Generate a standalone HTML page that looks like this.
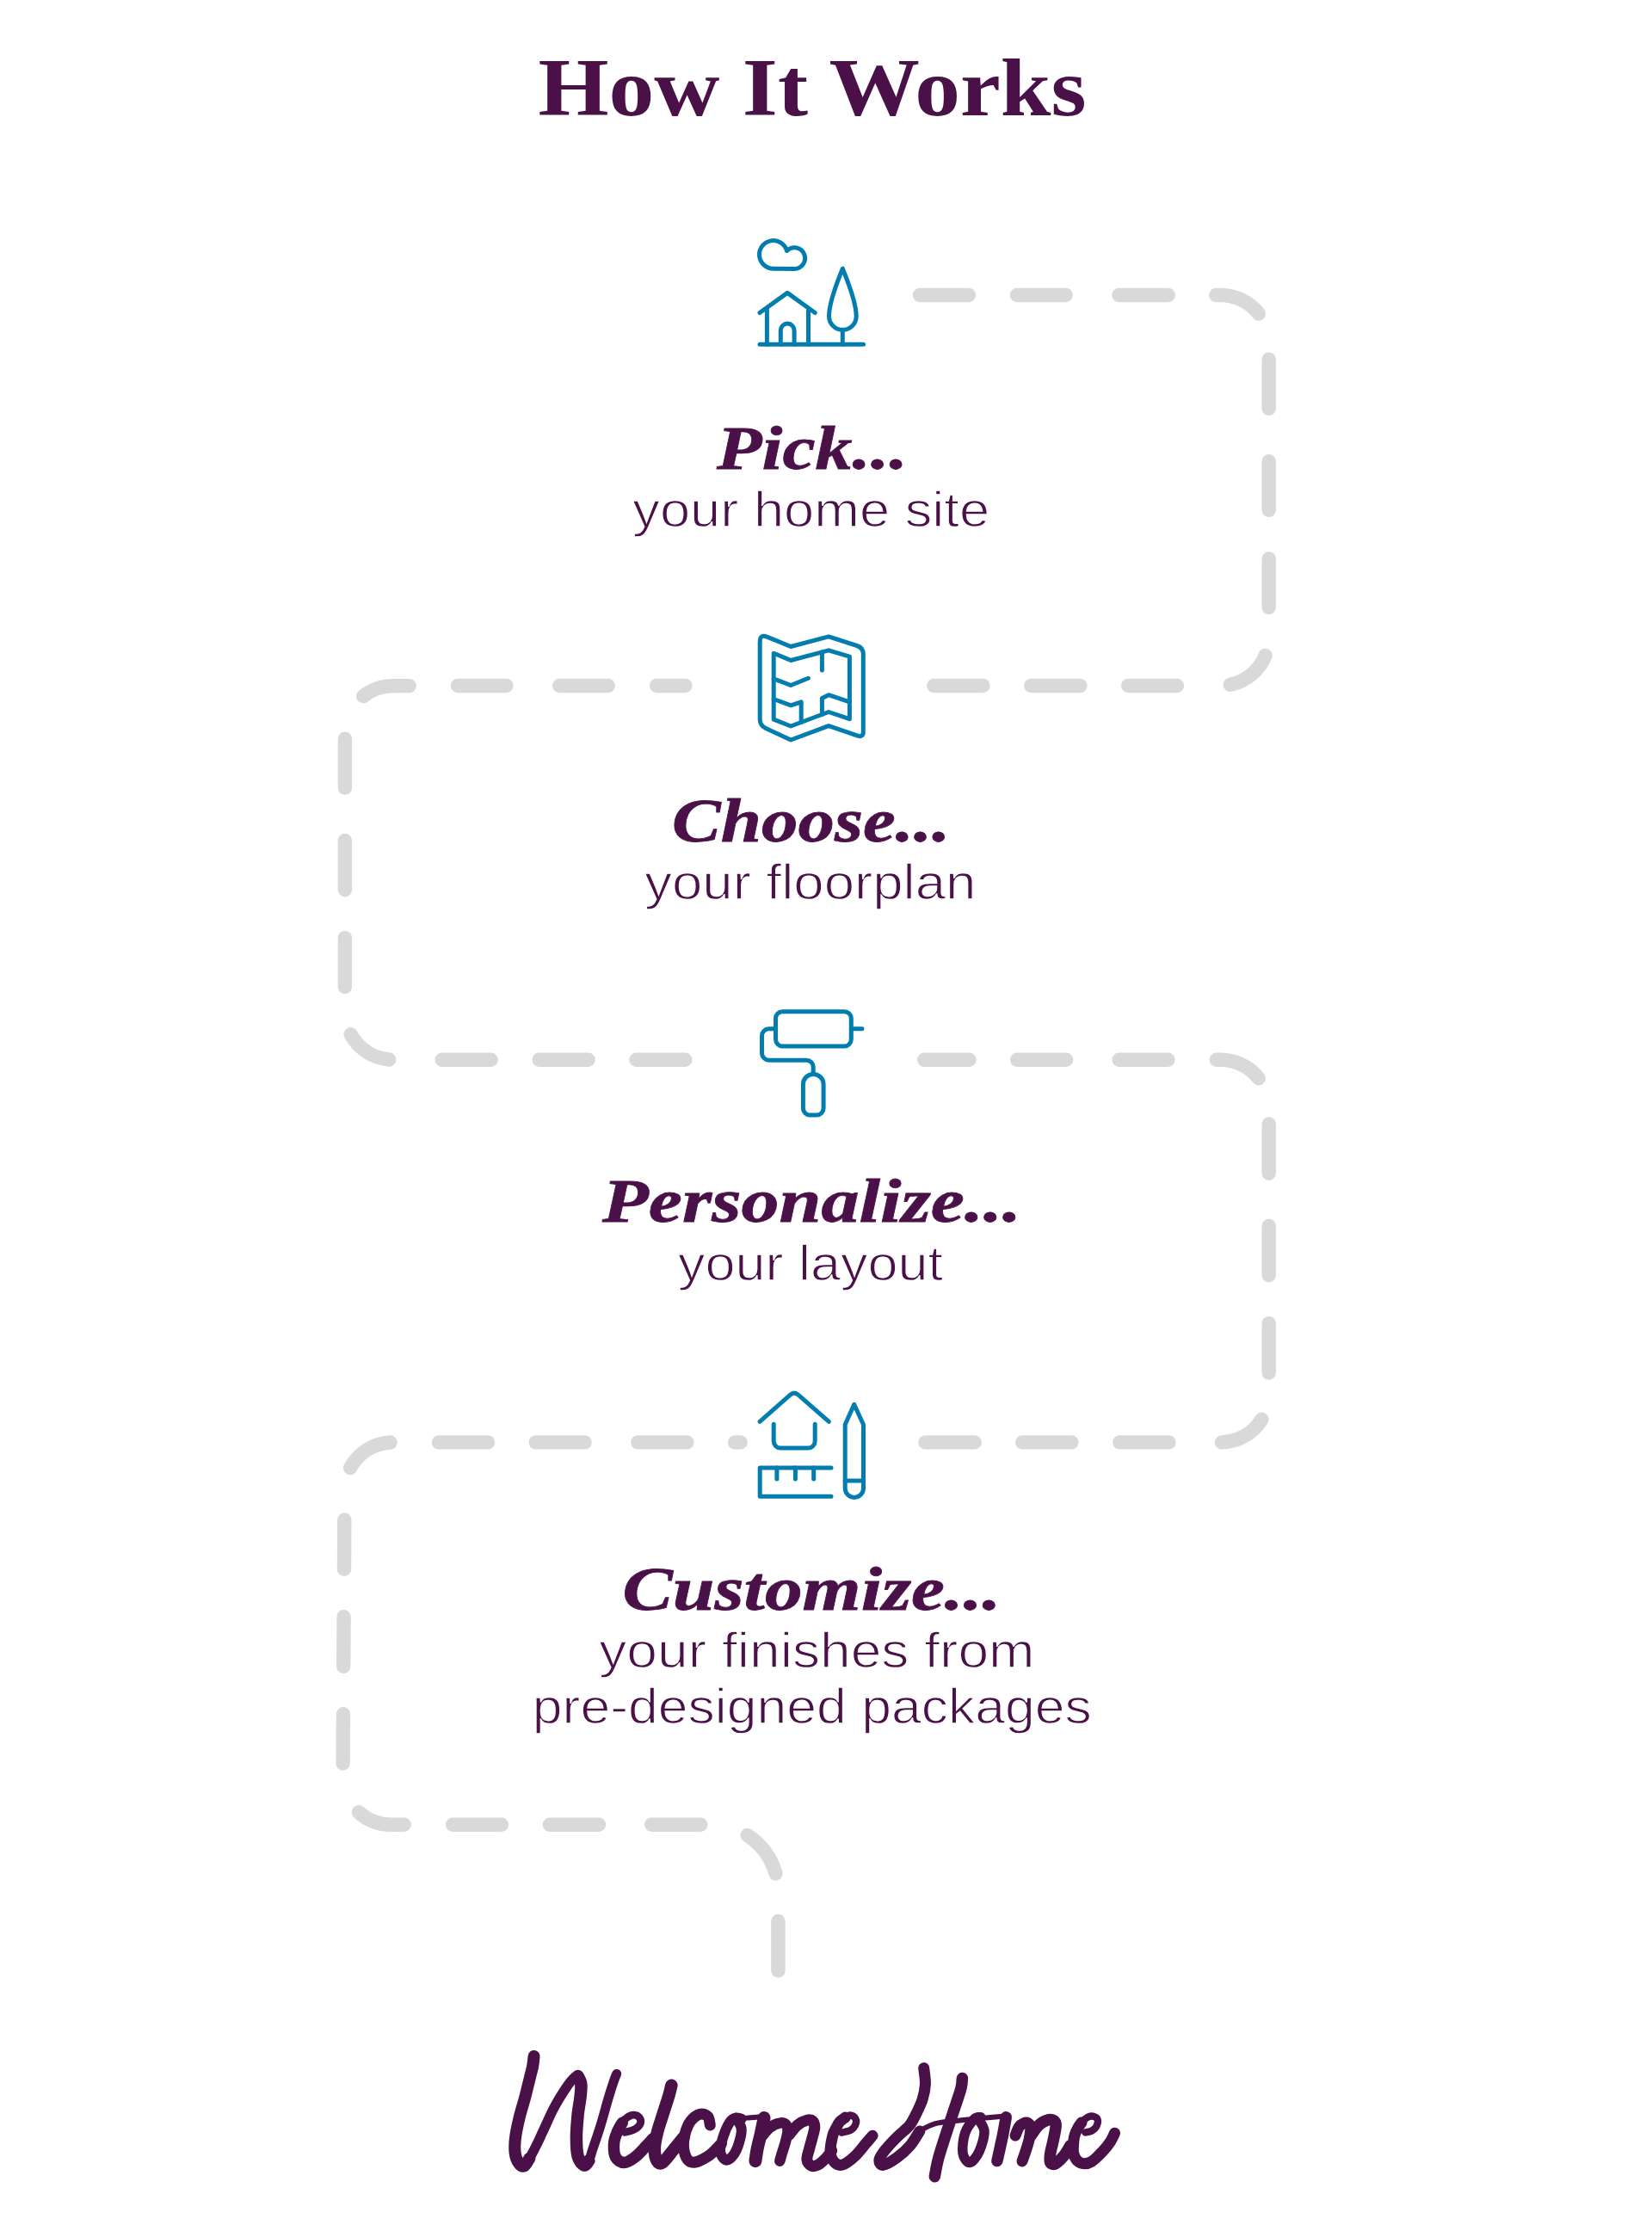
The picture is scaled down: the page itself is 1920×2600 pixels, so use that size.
<!DOCTYPE html>
<html><head><meta charset="utf-8"><title>How It Works</title>
<style>
html,body{margin:0;padding:0;background:#fff;}
body{width:1920px;height:2600px;overflow:hidden;position:relative;}
svg{position:absolute;left:0;top:0;display:block;}
.ttl{font-family:"Liberation Serif",serif;font-weight:bold;font-size:95px;fill:#4a1149;}
.hd{font-family:"Liberation Serif",serif;font-weight:bold;font-style:italic;font-size:72.5px;fill:#4a1149;stroke:#4a1149;stroke-width:0.8px;}
.sb{font-family:"Liberation Sans",sans-serif;font-size:57.5px;fill:#4a1149;stroke:#fff;stroke-width:1.3px;}
</style></head>
<body>
<svg width="1920" height="2600" viewBox="0 0 1920 2600">
<g fill="none" stroke="#d9d9d9" stroke-width="16.4" stroke-linecap="round" stroke-linejoin="round">
<path d="M1069 343H1125.9"/>
<path d="M1182 343H1238.7"/>
<path d="M1300.5 343H1357.6"/>
<path d="M1413.3 343L1418.7 343A56 56 0 0 1 1462.8 364.5"/>
<path d="M1474.7 417.6V474.9"/>
<path d="M1474.7 536.3V592.9"/>
<path d="M1474.7 649.4V706"/>
<path d="M1470.6 761.9A56 56 0 0 1 1429.8 795.8"/>
<path d="M1311.2 797H1368"/>
<path d="M1198.3 797H1255.4"/>
<path d="M1085.4 797H1142.5"/>
<path d="M763.1 797H796.4"/>
<path d="M650.2 797H706.6"/>
<path d="M532 797H588.4"/>
<path d="M475.7 797.1L456.9 797.1A56 56 0 0 0 422.1 809.2"/>
<path d="M400.9 858.6V915.6"/>
<path d="M400.9 977V1034.2"/>
<path d="M400.9 1090.1V1146.9"/>
<path d="M407.6 1202.2A56 56 0 0 0 452.2 1231.5"/>
<path d="M513.7 1231.8H570.6"/>
<path d="M626.7 1231.8H683.6"/>
<path d="M739.4 1231.8H796.3"/>
<path d="M1074.2 1231.8H1126.5"/>
<path d="M1182.2 1231.8H1239.1"/>
<path d="M1300.6 1231.8H1357.4"/>
<path d="M1413.8 1231.8L1418.7 1231.8A56 56 0 0 1 1462.8 1253.3"/>
<path d="M1474.7 1306.5V1363.7"/>
<path d="M1474.7 1425V1482.3"/>
<path d="M1474.7 1538.1V1595.5"/>
<path d="M1466.4 1649.7A56 56 0 0 1 1419.9 1676.4"/>
<path d="M1301.4 1676.4H1358.4"/>
<path d="M1188.3 1676.4H1245.3"/>
<path d="M1075.5 1676.4H1132.7"/>
<path d="M854.1 1676.4H860.6"/>
<path d="M741.4 1676.4H798.3"/>
<path d="M622.7 1676.4H679.6"/>
<path d="M510 1676.4H567"/>
<path d="M453.6 1676.5A56 56 0 0 0 407.1 1706.1"/>
<path d="M400.3 1766.5L400 1823.7"/>
<path d="M399.6 1879.2L399.2 1936.8"/>
<path d="M399 1992.3L398.6 2049.5"/>
<path d="M416.9 2106.3A56 56 0 0 0 454.4 2120.7L469.7 2120.7"/>
<path d="M526.1 2120.7H582.9"/>
<path d="M638.9 2120.7H696"/>
<path d="M757.2 2120.7H814.3"/>
<path d="M868.6 2133.1A78 78 0 0 1 901.5 2177.5"/>
<path d="M904.4 2233V2290.4"/>
</g>
<g fill="none" stroke="#037daf" stroke-width="5" stroke-linecap="round" stroke-linejoin="round">

<!-- icon 1: house + tree + cloud -->
<path d="M898.7 312.2A16.3 16.3 0 1 1 914.5 291.5A12.3 12.3 0 1 1 923 312.4Z"/>
<path d="M883 363.5L915.1 340.4L947.2 363.5"/>
<path d="M891.4 359V400.2M939.5 359V400.2"/>
<path d="M907.3 400.2V384A7.9 7.9 0 0 1 923.1 384V400.2"/>
<path d="M883 400.2H1003.5"/>
<path d="M979.3 312.2C972 330 963.5 352 963.5 367.5A15.85 15.85 0 0 0 995.2 367.5C995.2 352 986.6 330 979.3 312.2Z"/>
<path d="M979.3 383.4V400.2"/>
<!-- icon 2: map / floorplan -->
<path d="M883.2 746Q883.2 736.3 892 740.4L919.1 751.5L963.1 739.9L996 750.5Q1003.3 752.9 1003.3 760V850.4Q1003.3 857.4 996.7 855.1L963.1 843.6L919.1 860L890 846.4Q883.2 843.2 883.2 836Z"/>
<path d="M899.2 759.2L919.1 767.5L963.1 755.8L987.4 763.1V835.7L963.1 827.5L919.1 844L899.2 836.2Z"/>
<path d="M955.4 757.9V779.1"/>
<path d="M899.2 788.8L919.1 796.5L939.4 788.3"/>
<path d="M899.2 812.5L919.1 819.8L931.2 815.9V839.3"/>
<path d="M955.4 830.4V811.5L963.1 807.7L987.4 815.9"/>
<!-- icon 3: paint roller -->
<rect x="901.5" y="1175.7" width="87.8" height="40.3" rx="8"/>
<path d="M989.3 1195.8H1001.9"/>
<path d="M901.5 1195.8H893.5A8 8 0 0 0 885.5 1203.8V1224.2A8 8 0 0 0 893.5 1232.2H937.2A8 8 0 0 1 945.2 1240.2V1248.4"/>
<path d="M933.4 1260.25A11.85 11.85 0 0 1 957.1 1260.25V1288.1A8 8 0 0 1 949.1 1296.1H941.4A8 8 0 0 1 933.4 1288.1Z"/>
<!-- icon 4: house plan + ruler + pencil -->
<path d="M883 1652.3L918.5 1621.2Q923.1 1617.2 927.7 1621.2L963.4 1652.3"/>
<path d="M899.2 1655.2V1675A8 8 0 0 0 907.2 1683H939.2A8 8 0 0 0 947.2 1675V1655.2"/>
<path d="M966 1705.9H883.2V1739.3H966"/>
<path d="M902.9 1705.9V1719.1M924.4 1705.9V1719.1M945.7 1705.9V1719.1"/>
<path d="M982.2 1729.8V1655.7L992.7 1632.4L1003.5 1655.7V1729.8A10.65 10.65 0 0 1 982.2 1729.8Z"/>
<path d="M982.2 1720.9H1003.5"/>

</g>
<g>

<text class="ttl" x="625.5" y="134" textLength="637" lengthAdjust="spacingAndGlyphs">How It Works</text>
<text class="hd" x="833" y="544.6" textLength="222" lengthAdjust="spacingAndGlyphs">Pick...</text>
<text class="sb" x="735.3" y="611.5" textLength="414.8" lengthAdjust="spacingAndGlyphs">your home site</text>
<text class="hd" x="781" y="978" textLength="323.5" lengthAdjust="spacingAndGlyphs">Choose...</text>
<text class="sb" x="749.2" y="1044.5" textLength="385.2" lengthAdjust="spacingAndGlyphs">your floorplan</text>
<text class="hd" x="700" y="1420.1" textLength="487" lengthAdjust="spacingAndGlyphs">Personalize...</text>
<text class="sb" x="788.0" y="1487.6" textLength="308.0" lengthAdjust="spacingAndGlyphs">your layout</text>
<text class="hd" x="723.5" y="1870.5" textLength="440" lengthAdjust="spacingAndGlyphs">Customize...</text>
<text class="sb" x="696.3" y="1937.5" textLength="506.2" lengthAdjust="spacingAndGlyphs">your finishes from</text>
<text class="sb" x="618.8" y="2003.3" textLength="650.0" lengthAdjust="spacingAndGlyphs">pre-designed packages</text>

</g>
<g fill="#4a1149">
<g fill="none" stroke="#4a1149" stroke-linecap="round" stroke-linejoin="round">
<path stroke-width="14" d="M620.6 2390C620.3 2392 619.8 2398.4 619 2402.2C618.3 2406.1 617.8 2407.1 616.3 2413.1C614.8 2419.2 612.1 2430.5 610 2438.6C607.8 2446.6 605.4 2453.7 603.6 2461.3C601.8 2468.8 599.9 2477.2 599.1 2484C598.2 2490.8 598 2497.1 598.6 2502.1C599.2 2507.1 601 2511.4 602.7 2513.9C604.4 2516.5 606.9 2518.5 609.1 2517.6C611.2 2516.7 614.4 2510 615.4 2508.5"/>
<path stroke-width="11.5" d="M609.1 2517.6C610.1 2516 613 2512.6 615.4 2508.5C617.8 2504.4 621 2498.2 623.6 2493C626.2 2487.9 627.5 2484.7 630.8 2477.6C634.2 2470.5 639.2 2458.7 643.6 2450.4C647.9 2442 653.4 2433.4 657.2 2427.7C661 2421.9 663.8 2418.3 666.3 2415.9C668.7 2413.4 670.2 2412.7 671.7 2413.1C673.2 2413.6 674.7 2417.7 675.3 2418.6"/>
<path stroke-width="14.5" d="M671.7 2413.1C672.3 2414.7 674.9 2418 675.3 2422.2C675.8 2426.5 675 2432.8 674.4 2438.6C673.8 2444.3 672.5 2449.2 671.7 2456.7C671 2464.3 669.9 2475.6 669.9 2484C669.9 2492.3 670.2 2501.2 671.7 2506.7C673.2 2512.1 676.9 2515.9 679 2516.7C681.1 2517.4 683.5 2512.1 684.4 2511.2"/>
<path stroke-width="11" d="M679 2516.7C679.9 2515.7 682.8 2514.4 684.4 2511.2C686.1 2508 686.7 2504.4 689 2497.6C691.2 2490.8 695 2480.2 698 2470.3C701.1 2460.5 704.5 2447.2 707.1 2438.6C709.7 2429.9 711.9 2423.3 713.5 2418.6C715.1 2413.9 716.1 2411.8 716.7 2410.4"/>
<path stroke-width="8.9" d="M726.3 2478.3C727.8 2477.9 732.8 2477 735.4 2475.8C738.1 2474.7 740.7 2473.1 742.2 2471.3C743.8 2469.5 744.9 2466.9 744.7 2464.9C744.4 2462.9 742.7 2460.3 740.9 2459.2C739 2458.1 736 2457.9 733.6 2458.6C731.2 2459.2 728.5 2460.9 726.3 2463.1C724.2 2465.3 721.8 2470.3 720.9 2471.7"/>
<path stroke-width="13.5" d="M723.2 2467.2C722.2 2469 718.8 2474.2 717.3 2478.1C715.7 2482 713.9 2486 713.6 2490.8C713.3 2495.6 713.5 2503.4 715.4 2507.1C717.4 2510.9 721.6 2513.5 725.4 2513.5C729.2 2513.5 733.9 2510.3 738.1 2507.1C742.4 2504 747.4 2498.1 750.8 2494.4C754.3 2490.8 757.7 2486.9 759 2485.4"/>
<path stroke-width="14.5" d="M780.4 2423.8C779.8 2425.9 778.8 2430.9 777.2 2436.3C775.6 2441.7 773.1 2449 770.8 2456.3C768.6 2463.6 765.2 2472.9 763.6 2479.9C761.9 2486.9 760.8 2492.8 760.8 2498.1C760.8 2503.4 762 2509.1 763.6 2511.7C765.1 2514.3 766.9 2515.5 769.9 2513.5C772.9 2511.5 777.6 2504.7 781.7 2499.9C785.8 2495 792.3 2487 794.4 2484.4"/>
<path stroke-width="13" d="M825.3 2469.9C824.9 2468.3 824.5 2462 822.6 2459.9C820.6 2457.8 816.8 2456.3 813.5 2457.2C810.2 2458.1 805.5 2461.6 802.6 2465.4C799.7 2469.2 797.6 2474.9 796.2 2479.9C794.9 2484.9 794 2490.3 794.4 2495.3C794.9 2500.3 796.7 2506.9 799 2509.9C801.2 2512.8 804.1 2513.7 808.1 2513C812 2512.4 818.5 2508.8 822.6 2506.2C826.7 2503.7 829.9 2500.1 832.6 2497.6C835.2 2495.1 837.5 2492.3 838.5 2491.3"/>
<path stroke-width="12" d="M855.1 2461.6C856.1 2463.6 860.9 2469 861.6 2473.6C862.3 2478.1 860.9 2483.8 859.4 2488.8C858 2493.9 855.4 2500.5 852.9 2504.1C850.3 2507.7 846.8 2511.2 844.2 2510.6C841.5 2510.1 837.6 2505.5 837.1 2500.8C836.5 2496.1 839 2488.1 840.9 2482.3C842.8 2476.5 846.2 2469.4 848.5 2466C850.9 2462.5 852.9 2462.1 855.1 2461.6C857.2 2461.1 860.5 2462.5 861.6 2462.7"/>
<path stroke-width="5.9" d="M855.1 2462.7C857.2 2462.5 864.1 2461.9 868.1 2461.6C872.1 2461.3 875.8 2461.1 879 2460.8C882.3 2460.6 886.3 2460.1 887.7 2460"/>
<path stroke-width="15" d="M888.1 2461.6C887.5 2464.5 885.8 2473 884.5 2479C883.2 2485 881.2 2492.1 880.1 2497.6C879 2503 878.3 2509.4 877.9 2511.7"/>
<path stroke-width="12.5" d="M886.1 2482.3C887.7 2480.7 892 2474.9 895.4 2472.5C898.7 2470 903.3 2468.1 906.3 2467.6C909.3 2467 911.8 2467.7 913.4 2469.2C914.9 2470.8 915.6 2473.4 915.5 2476.9C915.4 2480.3 914 2485.4 912.8 2489.9C911.6 2494.5 909.5 2500.5 908.4 2504.1C907.4 2507.7 906.6 2510.4 906.3 2511.7"/>
<path stroke-width="13" d="M917.2 2481.2C918.8 2479.3 923.5 2472.6 927 2469.8C930.4 2467 935 2465.1 937.9 2464.3C940.8 2463.5 942.9 2463.7 944.4 2465.1C945.9 2466.4 946.8 2469.4 946.8 2472.5C946.8 2475.5 945.4 2479.2 944.4 2483.4C943.4 2487.6 941.7 2493.1 940.6 2497.6C939.5 2502 937.5 2506.8 937.9 2510.1C938.2 2513.4 940.6 2516.2 942.8 2517.2C944.9 2518.2 947.9 2517.7 950.9 2516.1C953.9 2514.4 958.1 2510.1 960.7 2507.4C963.4 2504.6 965.7 2501 966.7 2499.7"/>
<path stroke-width="8.4" d="M978.2 2478.7C980 2478.2 986.3 2477.3 989.1 2475.5C991.8 2473.8 994 2470.5 994.7 2468.1C995.5 2465.7 994.6 2462.7 993.4 2461.1C992.3 2459.5 989.8 2458.7 988 2458.5C986.2 2458.4 983.4 2459.7 982.5 2460"/>
<path stroke-width="13" d="M982.5 2461.1C981.4 2461.9 977.8 2463.9 976 2466C974.2 2468 973 2470.9 971.6 2473.6C970.3 2476.3 968.9 2477.8 967.8 2482.3C966.7 2486.8 964.8 2495.7 965.1 2500.8C965.4 2505.9 967.1 2510.3 969.5 2512.8C971.8 2515.3 975.3 2517.2 979.3 2516.1C983.3 2515 988.9 2510.4 993.4 2506.3C998 2502.1 1003.1 2495 1006.5 2491C1010 2487 1012.9 2483.8 1014.1 2482.3"/>
<path stroke-width="13" d="M1073.7 2403.6C1074 2406.8 1075.7 2416.6 1075.4 2422.7C1075.1 2428.7 1073.9 2434.3 1072.1 2440.1C1070.3 2445.9 1067 2452.4 1064.5 2457.5C1061.9 2462.6 1060.5 2466.2 1056.9 2470.6C1053.2 2475 1047.2 2479.1 1042.7 2483.7C1038.2 2488.2 1033.1 2493.5 1029.6 2497.8C1026.2 2502.2 1022.5 2506.7 1022 2509.8C1021.5 2512.9 1022.9 2516.7 1026.4 2516.4C1029.8 2516 1037.4 2511.5 1042.7 2507.6C1048 2503.8 1053.6 2498.6 1058 2493.5C1062.3 2488.4 1067 2479.9 1068.8 2477.1"/>
<path stroke-width="5.9" d="M1067.6 2477.1C1070.7 2475.7 1079.7 2470.4 1086.5 2468.4C1093.2 2466.4 1099.2 2466.2 1108.3 2465.2C1117.3 2464.1 1131.4 2462.8 1140.9 2461.9C1150.4 2461 1161.2 2460.1 1165.3 2459.7"/>
<path stroke-width="13.5" d="M1118.4 2415.4C1118.2 2417.2 1118.4 2421.1 1117.1 2426.3C1115.9 2431.4 1113.7 2437.5 1110.8 2446.3C1107.9 2455 1103.2 2468.7 1099.9 2479C1096.6 2489.2 1093.1 2499.5 1090.8 2508C1088.5 2516.5 1087 2526.2 1086.3 2529.8"/>
<path stroke-width="11.5" d="M1136.2 2461.7C1137.5 2464.3 1143.7 2470.6 1144 2477.1C1144.3 2483.6 1140.8 2494.7 1138 2500.7C1135.2 2506.8 1130.3 2513.2 1127.1 2513.5C1124 2513.8 1119.9 2508.3 1119 2502.6C1118.1 2496.8 1119.4 2485.6 1121.7 2479C1124 2472.3 1129.6 2465.6 1132.6 2462.6C1135.6 2459.6 1138.6 2461.1 1139.8 2460.8"/>
<path stroke-width="13.5" d="M1169.3 2460.8C1168.6 2464.4 1167 2474.1 1165.3 2482.6C1163.5 2491.1 1160 2506.8 1158.9 2511.6"/>
<path stroke-width="13" d="M1180 2482.1C1180.7 2480.4 1182.8 2474.3 1184.4 2472C1185.9 2469.6 1187.7 2468.7 1189.4 2468C1191.2 2467.2 1193.5 2466.8 1194.9 2467.6C1196.3 2468.4 1197.6 2469.4 1197.8 2472.7C1198 2475.9 1197 2482.4 1196 2487.2C1194.9 2492 1193 2497.6 1191.6 2501.7C1190.3 2505.8 1188.6 2510.2 1188 2511.9"/>
<path stroke-width="13.5" d="M1198.2 2482.1C1199.7 2480.1 1204.3 2472.8 1207.6 2469.8C1210.9 2466.7 1214.9 2464.8 1217.8 2464C1220.7 2463.1 1223.5 2463.6 1225 2464.7C1226.6 2465.8 1227.3 2466.7 1227.2 2470.5C1227.1 2474.3 1225.4 2481.8 1224.3 2487.2C1223.2 2492.7 1221.3 2498.8 1220.7 2503.2C1220.1 2507.5 1219.7 2511.4 1220.7 2513.3C1221.6 2515.3 1223.8 2516.1 1226.5 2514.8C1229.1 2513.5 1233.7 2508.9 1236.6 2505.4C1239.5 2501.8 1242.7 2495.7 1243.9 2493.7"/>
<path stroke-width="8.4" d="M1261.3 2478.5C1262.5 2478.2 1266.4 2477.9 1268.6 2476.7C1270.8 2475.5 1273.3 2473.5 1274.4 2471.2C1275.6 2469 1276.2 2465.2 1275.5 2463.2C1274.8 2461.3 1272 2460 1270.1 2459.6C1268.1 2459.2 1265.7 2459.8 1263.5 2461.1C1261.3 2462.3 1258.9 2464.7 1257 2466.9C1255.1 2469 1253 2472.9 1252.3 2474.1"/>
<path stroke-width="13" d="M1257 2466.9C1256.2 2468.1 1253.5 2471.8 1252.3 2474.1C1251 2476.4 1250.1 2478.4 1249.4 2480.7C1248.6 2483 1248.2 2484.4 1247.9 2487.9C1247.6 2491.4 1246.9 2497.9 1247.5 2501.7C1248.2 2505.6 1249.8 2509 1251.9 2511.2C1254 2513.3 1257 2514.7 1259.9 2514.8C1262.8 2514.9 1265.7 2514.3 1269.3 2511.9C1273 2509.5 1278.2 2504 1281.7 2500.3C1285.2 2496.5 1288.1 2492.9 1290.4 2489.4C1292.7 2485.9 1294.6 2480.9 1295.5 2479.2"/>
</g>
</g>
</svg>
</body></html>
